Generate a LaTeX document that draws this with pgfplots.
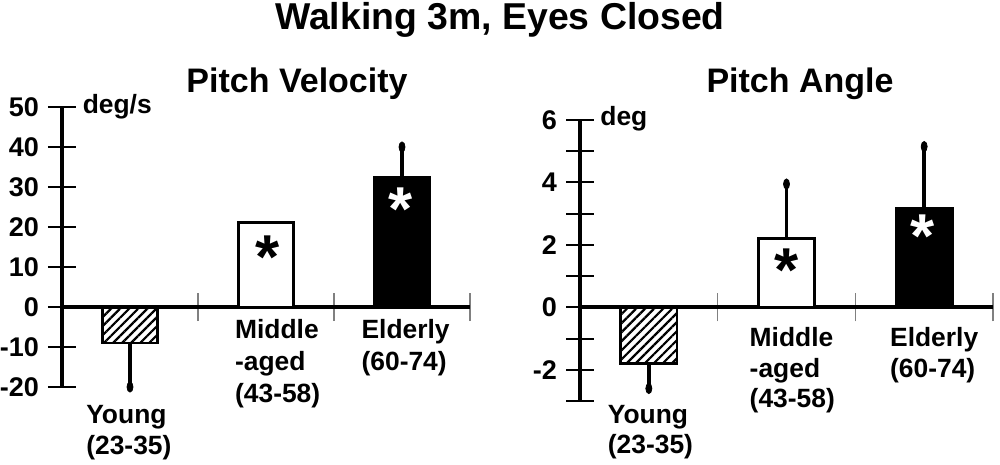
\documentclass[border=0pt]{standalone}
\usepackage{pgfplots}
\pgfplotsset{compat=1.18}
\usepackage{fontspec}
\setmainfont{Liberation Sans}
\usetikzlibrary{patterns.meta}
\tikzset{lab/.style={anchor=base west, inner sep=0pt}}
\pgfplotsset{
  panel/.style={
    scale only axis, anchor=south west,
    xmin=0, xmax=3, clip=false,
    axis x line=middle, axis y line=left,
    axis line style={-, line width=2pt},
    xtick={1,2,3}, xticklabels={},
    x tick style={gray, line width=0.8pt},
    y tick style={black, line width=1pt},
    tick align=center, major tick length=14pt,
    /pgf/number format/assume math mode=true,
    yticklabel style={font=\bfseries\fontsize{13.5}{13.5}\selectfont, xshift=-1pt},
  },
  barstyle/.style={ybar, bar shift=0pt, bar width=0.41, draw=black, line width=1.4pt},
  ebar/.style={error bars/.cd, y dir=#1, y explicit, error bar style={line width=1.9pt},
    error mark=*, error mark options={mark size=1.5pt, xscale=1.7, black}},
}
\newcommand{\cat}{\bfseries\fontsize{13.2}{13.2}\selectfont}
\newcommand{\starf}{\bfseries\fontsize{31}{31}\selectfont}
\begin{document}
\begin{tikzpicture}
\path[use as bounding box] (0,0) rectangle (500pt,-232.5pt);
\node[anchor=base] at (250pt,-15pt) {\bfseries\fontsize{18.7}{18.7}\selectfont Walking 3m, Eyes Closed};
\node[anchor=base] at (148.5pt,-46.5pt) {\bfseries\fontsize{17}{17}\selectfont Pitch Velocity};
\node[anchor=base] at (400pt,-46.5pt) {\bfseries\fontsize{17}{17}\selectfont Pitch Angle};

% Left panel: Pitch Velocity
\begin{axis}[panel, at={(31pt,-193.5pt)}, width=204pt, height=140pt,
  ymin=-20, ymax=50, ytick={-20,-10,0,10,20,30,40,50}]
\addplot[barstyle, pattern={Lines[angle=45,distance=3.2pt,line width=1.1pt]}, ebar=minus]
  coordinates {(0.5,-9) +- (0,11)};
\addplot[barstyle, fill=white] coordinates {(1.5,21.2)};
\addplot[barstyle, fill=black, ebar=plus]
  coordinates {(2.5,32.5) +- (0,7.5)};
\node[anchor=base, yshift=-14.3pt] at (axis cs:1.51,14.3) {\starf *};
\node[anchor=base, yshift=-14.3pt, white] at (axis cs:2.49,26.3) {\starf *};
\node[lab] at (axis cs:0.15,48.5) {\cat deg/s};
\node[lab] at (axis cs:0.176,-29) {\cat Young};
\node[lab] at (axis cs:0.176,-36.8) {\cat (23-35)};
\node[lab] at (axis cs:1.27,-7.75) {\cat Middle};
\node[lab] at (axis cs:1.27,-15.75) {\cat -aged};
\node[lab] at (axis cs:1.27,-23.75) {\cat (43-58)};
\node[lab] at (axis cs:2.2,-7.75) {\cat Elderly};
\node[lab] at (axis cs:2.2,-15.75) {\cat (60-74)};
\end{axis}

% Right panel: Pitch Angle
\begin{axis}[panel, at={(290pt,-200.5pt)}, width=206.5pt, height=140.5pt,
  ymin=-3, ymax=6, ytick={-3,-2,-1,0,1,2,3,4,5,6},
  yticklabels={,-2,,0,,2,,4,,6}]
\addplot[barstyle, pattern={Lines[angle=45,distance=3.2pt,line width=1.1pt]}, ebar=minus]
  coordinates {(0.5,-1.8) +- (0,0.8)};
\addplot[barstyle, fill=white, ebar=plus]
  coordinates {(1.5,2.2) +- (0,1.75)};
\addplot[barstyle, fill=black, ebar=plus]
  coordinates {(2.5,3.18) +- (0,1.97)};
\node[anchor=base, yshift=-14.3pt] at (axis cs:1.5,1.42) {\starf *};
\node[anchor=base, yshift=-14.3pt, white] at (axis cs:2.49,2.5) {\starf *};
\node[lab] at (axis cs:0.145,5.83) {\cat deg};
\node[lab] at (axis cs:0.2,-3.72) {\cat Young};
\node[lab] at (axis cs:0.2,-4.68) {\cat (23-35)};
\node[lab] at (axis cs:1.23,-1.25) {\cat Middle};
\node[lab] at (axis cs:1.23,-2.24) {\cat -aged};
\node[lab] at (axis cs:1.23,-3.22) {\cat (43-58)};
\node[lab] at (axis cs:2.25,-1.25) {\cat Elderly};
\node[lab] at (axis cs:2.25,-2.24) {\cat (60-74)};
\end{axis}
\end{tikzpicture}
\end{document}
